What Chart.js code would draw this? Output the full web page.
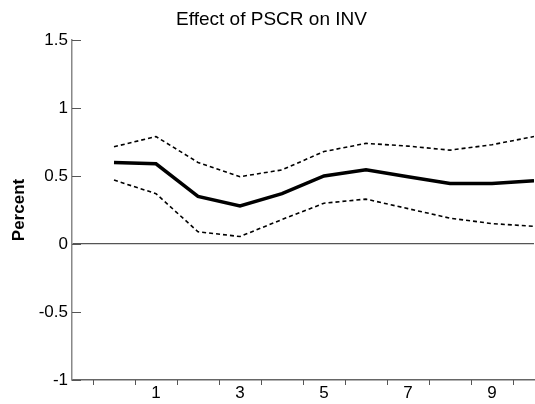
<!DOCTYPE html>
<html>
<head>
<meta charset="utf-8">
<script src="https://cdn.jsdelivr.net/npm/chart.js@4"></script>
<style>
  html, body { margin: 0; padding: 0; background: #fff; }
  #wrap { width: 535px; height: 404px; }
</style>
</head>
<body>
<div id="wrap"><canvas id="irfChart"></canvas></div>
<script>
// impulse response horizons and estimates
const periods = [0, 1, 2, 3, 4, 5, 6, 7, 8, 9, 10];
const response = [0.60, 0.59, 0.35, 0.28, 0.37, 0.50, 0.545, 0.495, 0.445, 0.445, 0.465];
const upperBand = [0.715, 0.79, 0.60, 0.495, 0.545, 0.68, 0.74, 0.72, 0.69, 0.73, 0.79];
const lowerBand = [0.47, 0.37, 0.09, 0.055, 0.18, 0.30, 0.33, 0.26, 0.19, 0.15, 0.13];
const xLabels = [1, 3, 5, 7, 9];
const yTicks = [-1, -0.5, 0, 0.5, 1, 1.5];
const xTickMarks = [-0.5, 0.5, 1.5, 2.5, 3.5, 4.5, 5.5, 6.5, 7.5, 8.5, 9.5];

const toPoints = (vals) => vals.map((v, i) => ({ x: periods[i], y: v }));

// small tick marks: y ticks point inward, x ticks hang below the axis
const tickMarks = {
  id: 'tickMarks',
  afterDraw(chart) {
    const { ctx, scales: { x, y } } = chart;
    ctx.save();
    ctx.strokeStyle = '#555';
    ctx.lineWidth = 1;
    yTicks.forEach((v) => {
      const py = Math.round(y.getPixelForValue(v)) + 0.5;
      ctx.beginPath();
      ctx.moveTo(x.left, py);
      ctx.lineTo(x.left + 9, py);
      ctx.stroke();
    });
    xTickMarks.forEach((v) => {
      const px = Math.round(x.getPixelForValue(v)) + 0.5;
      ctx.beginPath();
      ctx.moveTo(px, y.bottom);
      ctx.lineTo(px, y.bottom + 5);
      ctx.stroke();
    });
    ctx.restore();
  },
};

Chart.defaults.font.family = '"Liberation Sans", Arial, sans-serif';
Chart.defaults.font.size = 17;
Chart.defaults.color = '#000';

new Chart(document.getElementById('irfChart').getContext('2d'), {
  type: 'line',
  data: {
    datasets: [
      {
        label: 'Upper',
        data: toPoints(upperBand),
        borderColor: '#000',
        borderWidth: 1.6,
        borderDash: [4, 3],
        pointRadius: 0,
      },
      {
        label: 'Response',
        data: toPoints(response),
        borderColor: '#000',
        borderWidth: 3.5,
        pointRadius: 0,
      },
      {
        label: 'Lower',
        data: toPoints(lowerBand),
        borderColor: '#000',
        borderWidth: 1.6,
        borderDash: [4, 3],
        pointRadius: 0,
      },
    ],
  },
  options: {
    responsive: true,
    maintainAspectRatio: false,
    animation: false,
    layout: { padding: { right: 1, left: 9 } },
    plugins: {
      legend: { display: false },
      tooltip: { enabled: false },
      title: {
        display: true,
        text: 'Effect of PSCR on INV',
        font: { size: 19, weight: 'normal' },
        padding: { top: 8, bottom: 9.2 },
      },
    },
    scales: {
      x: {
        type: 'linear',
        min: -1,
        max: 10,
        afterBuildTicks: (scale) => {
          scale.ticks = xLabels.map((v) => ({ value: v }));
        },
        afterFit: (scale) => {
          scale.height = 24;
        },
        ticks: {
          autoSkip: false,
          maxRotation: 0,
          padding: 3,
          callback: (v) => String(v),
        },
        grid: { display: false, drawTicks: false },
        border: { color: '#666', width: 1.5 },
      },
      y: {
        min: -1,
        max: 1.5,
        afterBuildTicks: (scale) => {
          scale.ticks = yTicks.map((v) => ({ value: v }));
        },
        afterFit: (scale) => {
          scale.width = 63;
        },
        ticks: {
          padding: 4,
          callback: (v) => String(v),
        },
        grid: {
          drawTicks: false,
          color: (ctx) => (ctx.tick && ctx.tick.value === 0 ? '#555' : 'rgba(0,0,0,0)'),
          lineWidth: 1.2,
        },
        border: { color: '#888', width: 1.5 },
        title: {
          display: true,
          text: 'Percent',
          font: { size: 17, weight: 'bold' },
          padding: { top: 0, bottom: 0 },
        },
      },
    },
  },
  plugins: [tickMarks],
});
</script>
</body>
</html>
